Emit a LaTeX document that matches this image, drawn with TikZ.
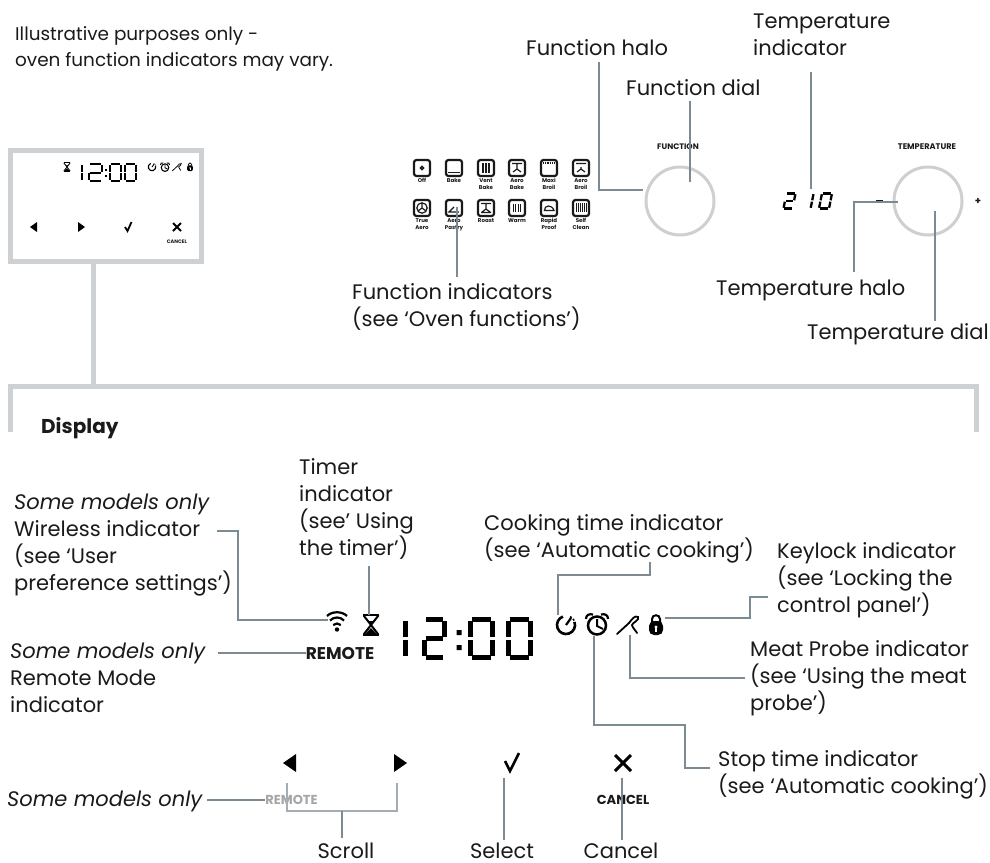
\documentclass[tikz,border=0pt]{standalone}
\usepackage{fontspec}
\setmainfont{Poppins}
\definecolor{conn}{HTML}{7C8A93}
\definecolor{frameg}{HTML}{CDD1D4}
\definecolor{halo}{HTML}{CFCFCF}
\definecolor{ink}{HTML}{1A1A1A}
\tikzset{
  lbl/.style={anchor=base west,inner sep=0pt,align=left,text=ink,font=\fontsize{21}{27}\selectfont},
  conline/.style={draw=conn,line width=2pt},
  frame/.style={draw=frameg,line width=5pt},
  halor/.style={draw=halo,line width=3pt},
  tiny/.style={inner sep=0pt,align=center,text=ink,font=\fontsize{5.5}{7}\selectfont\bfseries},
  ovenbox/.style={draw=ink,line width=2.2pt,rounded corners=2.5pt},
  ovendet/.style={draw=ink,line width=1.2pt}
}
\newcommand\sega{\draw (\G,0) -- (\W-\G,0);}
\newcommand\segb{\draw (\W,\G) -- (\W,\H/2-\G);}
\newcommand\segc{\draw (\W,\H/2+\G) -- (\W,\H-\G);}
\newcommand\segd{\draw (\G,\H) -- (\W-\G,\H);}
\newcommand\sege{\draw (0,\H/2+\G) -- (0,\H-\G);}
\newcommand\segf{\draw (0,\G) -- (0,\H/2-\G);}
\newcommand\segg{\draw (\G,\H/2) -- (\W-\G,\H/2);}
\newcommand\lcd[7]{\begin{scope}[shift={(#1,#2)},xslant=#6,line width=#5pt,draw=black]\def\W{#3}\def\H{#4}\pgfmathsetmacro\G{#5*0.3}#7\end{scope}}
\newcommand\dzero{\sega\segb\segc\segd\sege\segf}
\newcommand\dtwo{\sega\segb\segg\sege\segd}
\newcommand\done{\segb\segc}
\newcommand\iconcook[3]{\begin{scope}[shift={(#1,#2)},scale=#3]
  \draw[line width={#3*2.6pt}] (-20:9) arc (-20:250:9);
  \draw[line width={#3*2.2pt}] (0,0) -- (5,-7);
  \draw[line width={#3*2pt}] (-58:8.5) -- (-58:10) (-35:8.5) -- (-35:10);
  \end{scope}}
\newcommand\iconalarm[3]{\begin{scope}[shift={(#1,#2)},scale=#3]
  \draw[line width={#3*2.5pt}] (0,1.5) circle (9);
  \draw[line width={#3*2pt}] (0,-5) -- (0,2) -- (6,5);
  \draw[line width={#3*2.2pt}] (-11,-5) .. controls (-11,-9) and (-8,-10.5) .. (-4,-9.5);
  \draw[line width={#3*2.2pt}] (11,-5) .. controls (11,-9) and (8,-10.5) .. (4,-9.5);
  \end{scope}}
\newcommand\iconprobe[3]{\begin{scope}[shift={(#1,#2)},scale=#3]
  \draw[line width={#3*1.8pt},line cap=round] (-11,9) -- (1,-2) .. controls (4,-6) and (7,-10) .. (10,-8) .. controls (12,-5) and (4,-2) .. (4,0) .. controls (4,2) and (8,6) .. (9,8);
  \end{scope}}
\newcommand\iconlock[3]{\begin{scope}[shift={(#1,#2)},scale=#3]
  \draw[line width={#3*2pt}] (-4,-2) -- (-4,-6) .. controls (-4,-11) and (4,-11) .. (4,-6) -- (4,-2);
  \fill[black,rounded corners={#3*5pt}] (-7,-4) rectangle (7,10);
  \fill[white] (0,2) circle (1.6);
  \fill[white] (-1,2) rectangle (1,7);
  \end{scope}}
\newcommand\iconglass[3]{\begin{scope}[shift={(#1,#2)},scale=#3]
  \draw[line width={#3*2pt},line join=miter] (-7,-10) -- (-7,-9) -- (7,9) -- (7,10) (7,-10) -- (7,-9) -- (-7,9) -- (-7,10);
  \fill[black] (-3,-4) -- (3,-4) -- (0,-1) -- cycle;
  \fill[black] (-6,9) -- (6,9) -- (0,3) -- cycle;
  \draw[line width={#3*2.4pt}] (-8,-10) -- (8,-10) (-8,10) -- (8,10);
  \end{scope}}
\newcommand\oven[5]{%
  \node[ovenbox,minimum size=16pt,inner sep=0pt] (#1) at (#2,#3) {};
  \begin{scope}[shift={(#2,#3)}]#4\end{scope}
  \node[tiny,anchor=north] (#1t) at (#2,#3+10) {#5};}
\begin{document}
\begin{tikzpicture}[x=1pt,y=-1pt]
\useasboundingbox (0,0) rectangle (990,862);
\fill[white] (0,0) rectangle (990,862);

% top note
\node[lbl,font=\fontsize{18.4}{26}\selectfont] (note) at (15,66) {Illustrative purposes only -\\oven function indicators may vary.};

% small control panel
\node[frame,minimum width=191pt,minimum height=111pt,inner sep=0pt] (panel) at (106,206) {};
\iconglass{67}{167}{.42}
\lcd{81.5}{164}{0.1}{17}{2}{0}{\done}
\lcd{89}{164}{13}{17}{2}{0}{\dtwo}
\fill (105,169) rectangle +(1.8,1.8) (105,175) rectangle +(1.8,1.8);
\lcd{110}{164}{11}{17}{2}{0}{\dzero}
\lcd{125}{164}{11}{17}{2}{0}{\dzero}
\iconcook{152}{167}{.42}
\iconalarm{165}{167}{.42}
\iconprobe{177}{167}{.42}
\iconlock{190}{167}{.42}
\fill (37,222) -- (37,232) -- (30,227) -- cycle;
\fill (78,222) -- (78,232) -- (85,227) -- cycle;
\draw[line width=1.8pt] (125,227) -- (127.5,231) -- (131.5,222);
\draw[line width=1.8pt] (173,223) -- (181,231) (181,223) -- (173,231);
\node[tiny,font=\fontsize{5}{6}\selectfont\bfseries] (pcancel) at (177,242) {CANCEL};

% stem and display bracket
\coordinate (stemb) at (93,386);
\coordinate (brL) at (10,432);
\coordinate (brR) at (976,432);
\draw[frame] (93,264) -- (stemb);
\draw[frame] (brL) -- (10,386) -- (976,386) -- (brR);

% oven function indicators
\oven{o1}{422}{168}{\draw[line width=1.4pt,draw=ink,fill=white] (0,0) circle (1.6);}{Off}
\oven{o2}{454}{168}{\draw[draw=ink,line width=1.4pt] (-6,4.5) -- (6,4.5);}{Bake}
\oven{o3}{486}{168}{\draw[ovendet] (-3,-5) -- (-3,5) (0,-5) -- (0,5) (3,-5) -- (3,5);}{Vent\\Bake}
\oven{o4}{517}{168}{\draw[ovendet] (-5,-4.5) -- (5,-4.5) (0,-4.5) -- (0,1) -- (-4,4) (0,1) -- (4,4);}{Aero\\Bake}
\oven{o5}{549}{168}{\draw[draw=ink,line width=1.2pt,densely dotted] (-6,-5) -- (6,-5);}{Maxi\\Broil}
\oven{o6}{581}{168}{\draw[ovendet] (-5,-4.5) -- (5,-4.5) (0,-1) -- (0,1) -- (-4,4) (0,1) -- (4,4);}{Aero\\Broil}
\oven{o7}{422}{208}{\draw[ovendet] (0,0) circle (5.2) (0,0) -- (0,-5) (0,0) -- (-4,3) (0,0) -- (4,3);}{True\\Aero}
\oven{o8}{454}{208}{\draw[ovendet] (0,-1) -- (-5,4) -- (5,4);}{Aero\\Pastry}
\oven{o9}{486}{208}{\draw[ovendet] (-5,-4.5) -- (5,-4.5) (0,-4.5) -- (0,1) -- (-4,4) (0,1) -- (4,4) (-5,4.5) -- (5,4.5);}{Roast}
\oven{o10}{517}{208}{\draw[ovendet] (-3.5,-4) -- (-3.5,4) (-1.2,-4) -- (-1.2,4) (1.2,-4) -- (1.2,4) (3.5,-4) -- (3.5,4);}{Warm}
\oven{o11}{549}{208}{\draw[ovendet] (-4.5,2.5) .. controls (-5,-3) and (3,-4) .. (5,2.5) -- cycle;}{Rapid\\Proof}
\oven{o12}{581}{208}{\draw[draw=ink,line width=1pt] (-5,-5) -- (-5,4) (-3,-5) -- (-3,4) (-1,-5) -- (-1,4) (1,-5) -- (1,4) (3,-5) -- (3,4) (5,-5) -- (5,4);}{Self\\Clean}

% dials
\node[halor,circle,minimum size=68pt,inner sep=0pt] (fhalo) at (680,201) {};
\node[halor,circle,minimum size=68pt,inner sep=0pt] (thalo) at (928,201) {};
\node[tiny,font=\fontsize{8}{9}\selectfont\bfseries] (flbl) at (678,147) {FUNCTION};
\node[tiny,font=\fontsize{8.2}{9}\selectfont\bfseries] (tlbl) at (927,147) {TEMPERATURE};
\node[inner sep=0pt,fill=ink,minimum width=7pt,minimum height=1.5pt] (tminus) at (879,201) {};
\node[inner sep=0pt,text=ink,font=\fontsize{10}{10}\selectfont\bfseries] (tplus) at (978,201) {+};
\lcd{786.5}{193.5}{9}{15}{2.3}{0.2}{\dtwo}
\lcd{813.5}{193.5}{0.1}{15}{2.3}{0.2}{\done}
\lcd{822}{193.5}{10}{15}{2.3}{0.2}{\dzero}

% upper labels
\node[lbl] (lfh) at (526,55) {Function halo};
\node[lbl] (lfd) at (626,95) {Function dial};
\node[lbl] (lti) at (753,55) {Temperature\\indicator};
\node[lbl] (lfi) at (352,326) {Function indicators\\(see ‘Oven functions’)};
\node[lbl] (lth) at (716,295) {Temperature halo};
\node[lbl] (ltd) at (807,339) {Temperature dial};
\node[lbl,font=\fontsize{20}{24}\selectfont\bfseries] (ldisp) at (41,433) {Display};

\coordinate (a1) at (599,62); \coordinate (a2) at (643,190);
\draw[conline] (a1) |- (a2);
\coordinate (b1) at (690,101); \coordinate (b2) at (690,182);
\draw[conline] (b1) -- (b2);
\coordinate (c1) at (811,72); \coordinate (c2) at (811,189);
\draw[conline] (c1) -- (c2);
\coordinate (d1) at (854,272); \coordinate (d2) at (898,202);
\draw[conline] (d1) |- (d2);
\coordinate (e1) at (935,211); \coordinate (e2) at (935,321);
\draw[conline] (e1) -- (e2);
\coordinate (f1) at (457,207); \coordinate (f2) at (457,277);
\draw[conline] (f1) -- (f2);

% big display
\begin{scope}[shift={(337,622)}]
  \fill (0,7.5) circle (2.2);
  \draw[line width=2.2pt] (-10,-6) .. controls (-5,-11) and (5,-11) .. (10,-6);
  \draw[line width=2.2pt] (-7,-1.5) .. controls (-3,-5.5) and (3,-5.5) .. (7,-1.5);
  \draw[line width=2.2pt] (-3.8,3) .. controls (-1.5,1) and (1.5,1) .. (3.8,3);
\end{scope}
\iconglass{371}{625}{1}
\node[inner sep=0pt,text=ink,font=\fontsize{17}{17}\selectfont\bfseries] (rem) at (340,653) {REMOTE};
\lcd{405}{619.5}{0.1}{38}{5}{0}{\done}
\lcd{424.5}{619.5}{20}{38}{5}{0}{\dtwo}
\fill (456.5,630) rectangle +(5,5) (456.5,645) rectangle +(5,5);
\lcd{470.5}{619.5}{22}{38}{5}{0}{\dzero}
\lcd{508}{619.5}{22}{38}{5}{0}{\dzero}
\iconcook{566}{625}{1}
\iconalarm{597}{624}{1}
\iconprobe{628}{625}{1}
\iconlock{656}{625}{1}
\fill (296,754) -- (296,772) -- (283,763) -- cycle;
\fill (394,754) -- (394,772) -- (407,763) -- cycle;
\draw[line width=2.6pt] (505,761) -- (510,771) -- (519,753);
\draw[line width=3pt] (615,755) -- (631,771) (631,755) -- (615,771);
\node[inner sep=0pt,text=black!35,font=\fontsize{13}{13}\selectfont\bfseries] (grem) at (291.5,800) {REMOTE};
\node[inner sep=0pt,text=ink,font=\fontsize{13}{13}\selectfont\bfseries] (canc) at (623,800) {CANCEL};

% lower labels
\node[lbl] (n1) at (14,590) {\itshape Some models only\\Wireless indicator\\(see ‘User\\preference settings’)};
\node[lbl] (n2) at (299,555) {Timer\\indicator\\(see’ Using\\the timer’)};
\node[lbl] (n3) at (484,557) {Cooking time indicator\\(see ‘Automatic cooking’)};
\node[lbl] (n4) at (777,612) {Keylock indicator\\(see ‘Locking the\\control panel’)};
\node[lbl] (n5) at (750,710) {Meat Probe indicator\\(see ‘Using the meat\\probe’)};
\node[lbl] (n6) at (718,793) {Stop time indicator\\(see ‘Automatic cooking’)};
\node[lbl] (n7) at (10,712) {\itshape Some models only\\Remote Mode\\indicator};
\node[lbl] (n8) at (7,806) {\itshape Some models only};
\node[lbl,anchor=base] (n9) at (346,858) {Scroll};
\node[lbl,anchor=base] (n10) at (502,858) {Select};
\node[lbl,anchor=base] (n11) at (621,858) {Cancel};

\coordinate (w1) at (217,531); \coordinate (w2) at (238,531); \coordinate (w3) at (328,620);
\draw[conline] (w1) -- (w2) |- (w3);
\coordinate (t1) at (369,566); \coordinate (t2) at (369,615);
\draw[conline] (t1) -- (t2);
\coordinate (r1) at (218,653);
\draw[conline] (r1) -- (rem.west);
\coordinate (k1) at (650,562); \coordinate (k2) at (650,575); \coordinate (k3) at (558,575); \coordinate (k4) at (558,615);
\draw[conline] (k1) -- (k2) -- (k3) -- (k4);
\coordinate (s1) at (594,636); \coordinate (s2) at (594,725); \coordinate (s3) at (685,725); \coordinate (s4) at (685,768); \coordinate (s5) at (710,768);
\draw[conline] (s1) -- (s2) -- (s3) -- (s4) -- (s5);
\coordinate (m1) at (630,635); \coordinate (m2) at (745,678);
\draw[conline] (m1) |- (m2);
\coordinate (l1) at (665,618); \coordinate (l2) at (750,618); \coordinate (l3) at (750,597); \coordinate (l4) at (768,597);
\draw[conline] (l1) -- (l2) -- (l3) -- (l4);
\coordinate (g1) at (207,800);
\draw[conline] (g1) -- (grem.west);
\coordinate (sl) at (287,783); \coordinate (sr) at (397,783); \coordinate (sb) at (342,811); \coordinate (sd) at (342,838);
\draw[conline,draw=conn!70] (sl) |- (sb) -| (sr);
\draw[conline] (sb) -- (sd);
\coordinate (se1) at (504,778); \coordinate (se2) at (504,840);
\draw[conline] (se1) -- (se2);
\coordinate (ca1) at (622,778); \coordinate (ca2) at (622,840);
\draw[conline] (ca1) -- (ca2);
\end{tikzpicture}
\end{document}
